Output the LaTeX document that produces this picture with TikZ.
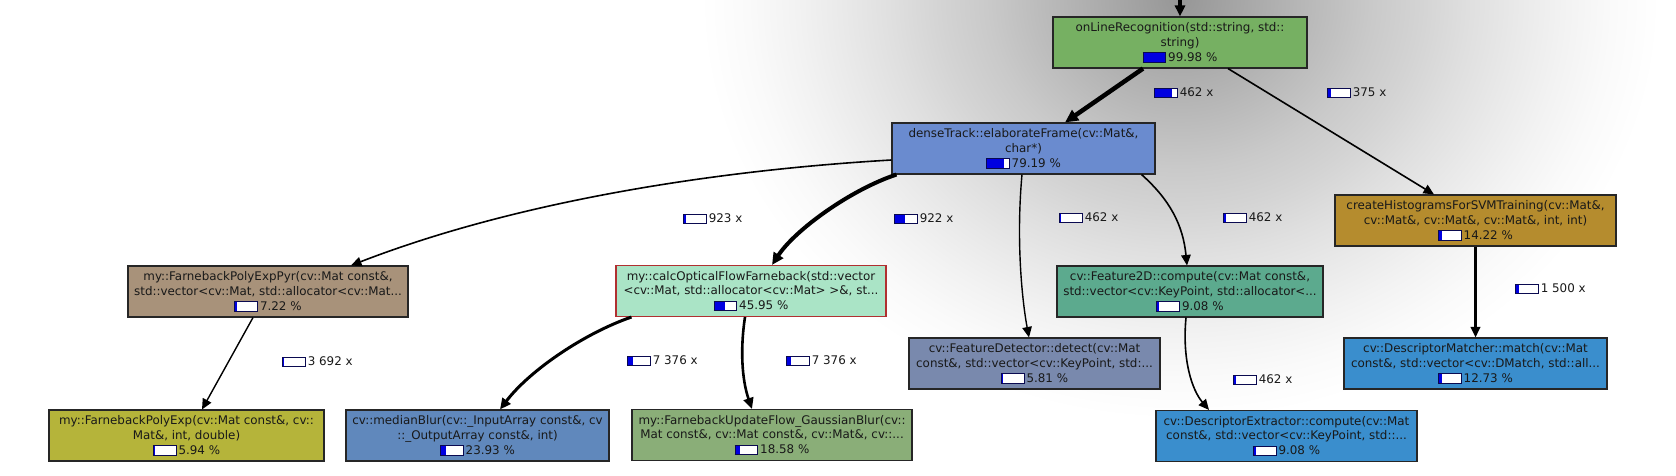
\documentclass[tikz,border=0pt]{standalone}
\usepackage{fontspec}
\setmainfont{DejaVu Sans}
\usepackage{tikz}
\usetikzlibrary{positioning, arrows.meta, shapes}

\definecolor{onlinegreen}{RGB}{118,176,98}
\definecolor{denseblue}{RGB}{106,139,207}
\definecolor{histgold}{RGB}{181,140,46}
\definecolor{matchblue}{RGB}{58,142,205}
\definecolor{featteal}{RGB}{92,170,142}
\definecolor{detectslate}{RGB}{121,137,173}
\definecolor{pyrtan}{RGB}{168,146,122}
\definecolor{polyolive}{RGB}{181,180,58}
\definecolor{medianblue}{RGB}{96,136,188}
\definecolor{calcmint}{RGB}{170,228,198}
\definecolor{calcred}{RGB}{176,48,48}
\definecolor{updategreen}{RGB}{138,174,120}
\definecolor{barblue}{RGB}{0,0,225}
\definecolor{barframe}{RGB}{10,10,80}

% 25bp is the rim of the shaded path
\pgfdeclareradialshading{glow}{\pgfpoint{0bp}{0bp}}{color(0bp)=(black!41); color(2.5bp)=(black!36);
  color(5bp)=(black!31); color(7.5bp)=(black!26); color(10bp)=(black!21); color(12.5bp)=(black!17);
  color(15bp)=(black!12.5); color(17.5bp)=(black!8.6); color(20bp)=(black!5); color(22.5bp)=(black!2);
  color(25bp)=(white); color(50bp)=(white)}

\newlength{\barwd}
\setlength{\barwd}{22pt}
\newcommand{\costbar}[1]{{\setlength{\fboxsep}{0pt}\setlength{\fboxrule}{0.8pt}%
  \raisebox{-0.5pt}{\fcolorbox{barframe}{white}{\makebox[\barwd][l]{\textcolor{barblue}{\rule{#1\barwd}{8.4pt}}}}}}\hspace{2pt}}

\tikzset{
  fnbox/.style={draw=black!85, line width=1.1pt, rectangle, minimum height=51pt,
    align=center, inner sep=1pt, font=\fontsize{11.9}{14.8}\selectfont, text=black!90},
  callcount/.style={anchor=west, inner sep=0pt, font=\fontsize{11.9}{13}\selectfont, text=black!90},
  call/.style={draw=black, line width=1.6pt, -{Triangle[length=10.5pt,width=9.5pt]}},
}

\begin{document}
\begin{tikzpicture}[x=1pt, y=-1pt]
        \useasboundingbox (0,0) rectangle (1676,476);
        \clip (0,0) rectangle (1676,476);
        \fill[white] (0,0) rectangle (1676,476);
        % shadow round the selected function
        \shade[shading=glow] (1180,0) ellipse [x radius=480, y radius=420];

        % functions
        \node[fnbox, fill=onlinegreen, minimum width=254pt] (online) at (1180,42.5)
            {onLineRecognition(std::string, std::\\string)\\\costbar{0.9998}99.98 \%};
        \node[fnbox, fill=denseblue, minimum width=263pt] (dense) at (1023.5,148.5)
            {denseTrack::elaborateFrame(cv::Mat\&,\\char*)\\\costbar{0.7919}79.19 \%};
        \node[fnbox, fill=histgold, minimum width=281pt] (hist) at (1475.5,220.5)
            {createHistogramsForSVMTraining(cv::Mat\&,\\cv::Mat\&, cv::Mat\&, cv::Mat\&, int, int)\\\costbar{0.1422}14.22 \%};
        \node[fnbox, fill=matchblue, minimum width=263pt] (matcher) at (1475.5,363.5)
            {cv::DescriptorMatcher::match(cv::Mat\\const\&, std::vector<cv::DMatch, std::all...\\\costbar{0.1273}12.73 \%};
        \node[fnbox, fill=featteal, minimum width=266pt] (feature) at (1190,291.5)
            {cv::Feature2D::compute(cv::Mat const\&,\\std::vector<cv::KeyPoint, std::allocator<...\\\costbar{0.0908}9.08 \%};
        \node[fnbox, fill=detectslate, minimum width=251pt] (detector) at (1034.5,363.5)
            {cv::FeatureDetector::detect(cv::Mat\\const\&, std::vector<cv::KeyPoint, std:...\\\costbar{0.0581}5.81 \%};
        \node[fnbox, fill=matchblue, minimum width=261pt] (extractor) at (1286.5,436)
            {cv::DescriptorExtractor::compute(cv::Mat\\const\&, std::vector<cv::KeyPoint, std::...\\\costbar{0.0908}9.08 \%};
        \node[fnbox, fill=pyrtan, minimum width=280pt] (pyr) at (268,291.5)
            {my::FarnebackPolyExpPyr(cv::Mat const\&,\\std::vector<cv::Mat, std::allocator<cv::Mat...\\\costbar{0.0722}7.22 \%};
        \node[fnbox, fill=polyolive, minimum width=275pt] (polyexp) at (186.5,435.5)
            {my::FarnebackPolyExp(cv::Mat const\&, cv::\\Mat\&, int, double)\\\costbar{0.0594}5.94 \%};
        \node[fnbox, fill=medianblue, minimum width=263pt] (median) at (477.5,435.5)
            {cv::medianBlur(cv::\_InputArray const\&, cv\\::\_OutputArray const\&, int)\\\costbar{0.2393}23.93 \%};
        \node[fnbox, fill=calcmint, draw=calcred, minimum width=270pt] (calc) at (751,291)
            {my::calcOpticalFlowFarneback(std::vector\\<cv::Mat, std::allocator<cv::Mat> >\&, st...\\\costbar{0.4595}45.95 \%};
        \node[fnbox, fill=updategreen, minimum width=280pt] (update) at (772,435)
            {my::FarnebackUpdateFlow\_GaussianBlur(cv::\\Mat const\&, cv::Mat const\&, cv::Mat\&, cv::...\\\costbar{0.1858}18.58 \%};

        % call counts
        \foreach \i/\px/\py/\share/\calls in {
                1/1154/93/0.7919/462,
                2/1327/93/0.1422/375,
                3/683/219/0.0722/923,
                4/894/219/0.4595/922,
                5/1059/218/0.0581/462,
                6/1223/218/0.0908/462,
                7/1515/289/0.1273/{1 500},
                8/282/362/0.0594/{3 692},
                9/627/361/0.2393/{7 376},
                10/786/361/0.1858/{7 376},
                11/1233/380/0.0908/462}{
                \node[callcount] (calls\i) at (\px,\py) {\costbar{\share}\calls~x};
        }

        % calls
        \coordinate (caller) at (1180,0);
        \draw[call, line width=3.2pt, -{Triangle[length=11pt,width=10pt]}] (caller) -- (online.north);
        \draw[call, line width=4.5pt, -{Triangle[length=13pt,width=12pt]}] ([xshift=-37pt]online.south) -- ([xshift=41.5pt]dense.north);
        \draw[call] ([xshift=48pt]online.south) -- ([xshift=-41.5pt]hist.north);
        \draw[call] ([yshift=-11.5pt]dense.west) .. controls (720,170) and (520,200) .. ([xshift=83pt]pyr.north);
        \draw[call, line width=4pt, -{Triangle[length=12pt,width=11pt]}] ([xshift=5pt]dense.south west) .. controls (850,190) and (795,230) .. ([xshift=21pt]calc.north);
        \draw[call, line width=1.4pt] ([xshift=-1.5pt]dense.south) .. controls (1016,240) and (1022,300) .. ([xshift=-5.5pt]detector.north);
        \draw[call] ([xshift=-14pt]dense.south east) .. controls (1170,200) and (1183,225) .. ([xshift=-3pt]feature.north);
        \draw[call, line width=2.2pt] (hist.south) -- (matcher.north);
        \draw[call, line width=1.4pt] ([xshift=-15pt]pyr.south) -- ([xshift=15.5pt]polyexp.north);
        \draw[call, line width=3pt, -{Triangle[length=11pt,width=10pt]}] ([xshift=16pt]calc.south west) .. controls (585,333) and (530,370) .. ([xshift=22.5pt]median.north);
        \draw[call, line width=2.6pt, -{Triangle[length=11pt,width=10pt]}] ([xshift=-6pt]calc.south) .. controls (740,350) and (742,380) .. ([xshift=-20pt]update.north);
        \draw[call] ([xshift=-4pt]feature.south) .. controls (1182,360) and (1192,390) .. ([xshift=-77.5pt]extractor.north);

    \end{tikzpicture}
\end{document}
